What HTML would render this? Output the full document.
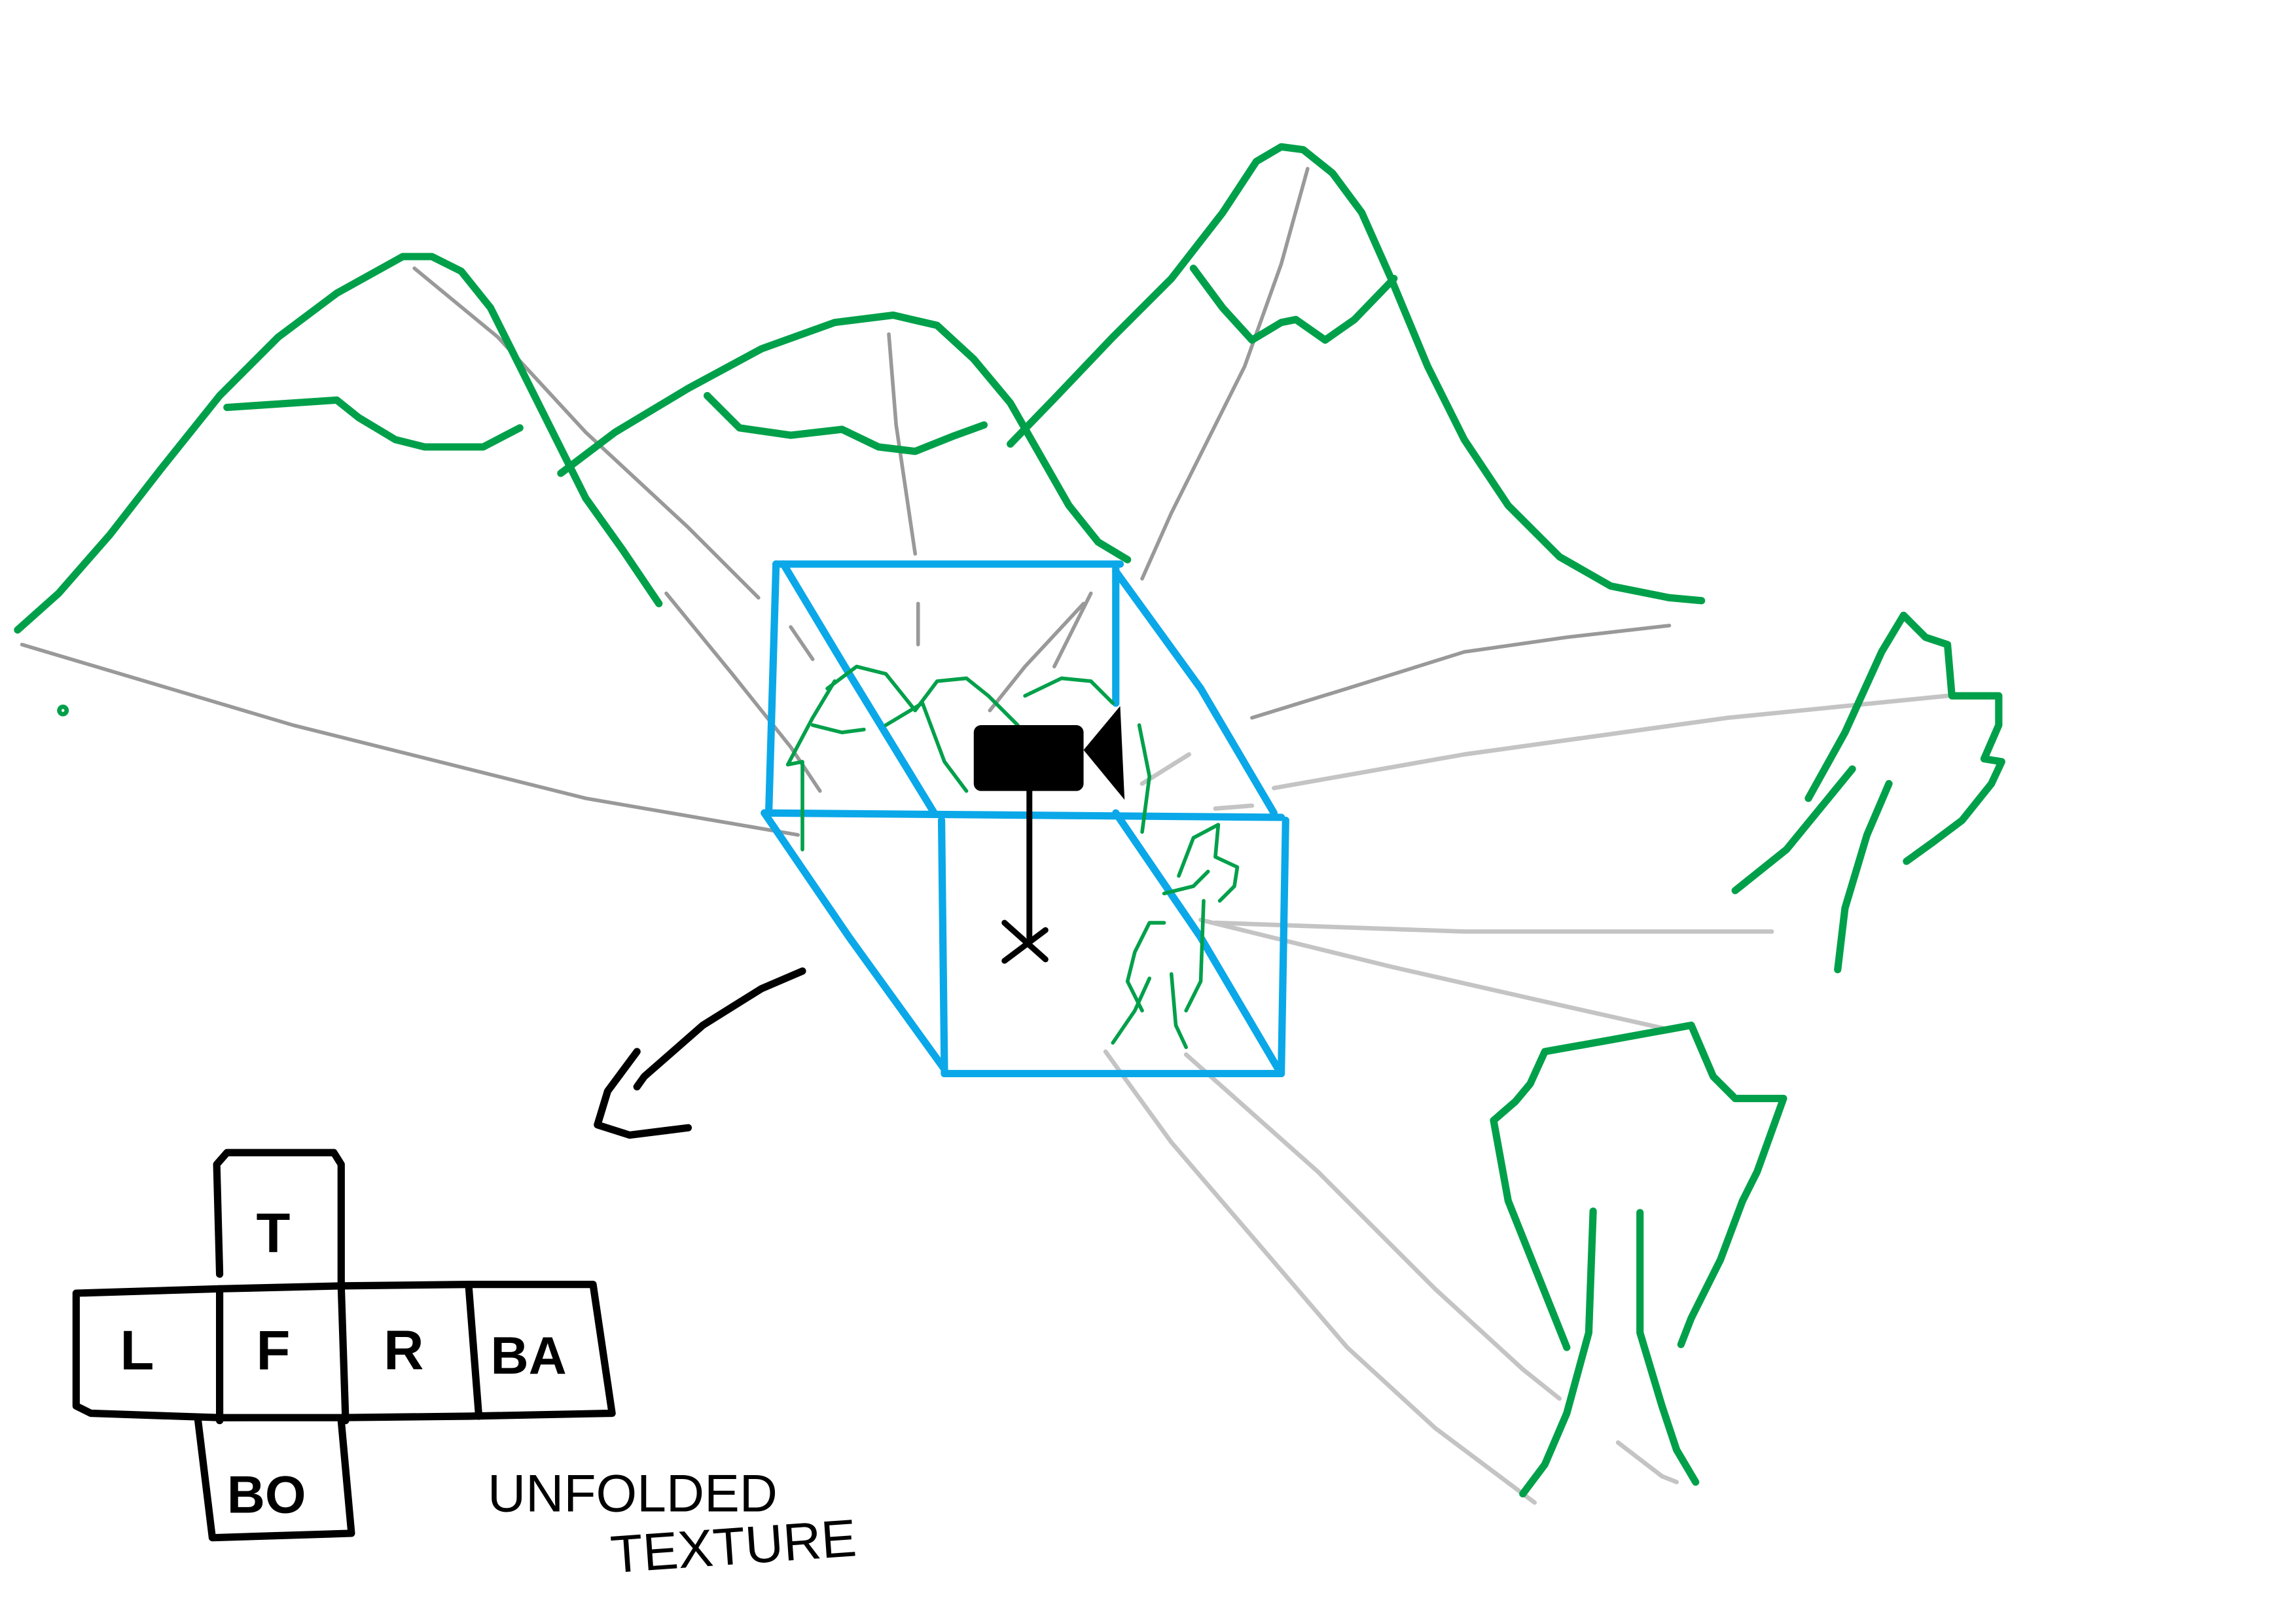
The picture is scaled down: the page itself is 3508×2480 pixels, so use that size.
<!DOCTYPE html>
<html><head><meta charset="utf-8"><style>
html,body{margin:0;padding:0;background:#fff;}
svg{display:block;}
text{font-family:"Liberation Sans",sans-serif;font-weight:bold;fill:#000;}
</style></head><body>
<svg width="3508" height="2480" viewBox="0 0 1568 1108" xmlns="http://www.w3.org/2000/svg" fill="none" stroke-linecap="round" stroke-linejoin="round">
<rect width="1568" height="1108" fill="#fff"/>
<g stroke="#999" stroke-width="2.5">
<polyline points="15,440 200,495 400,545 545,570"/>
<polyline points="283,183 340,230 400,295 470,360 518,408"/>
<polyline points="455,405 500,460 540,510 560,540"/>
<polyline points="607,228 612,290 625,378"/>
<polyline points="627,412 627,440"/>
<polyline points="540,428 555,450"/>
<polyline points="893,115 875,180 850,250 825,300 800,350 780,395"/>
<polyline points="855,490 920,470 1000,445 1070,435 1140,427"/>
<polyline points="745,405 720,455"/>
<polyline points="740,412 700,455 676,485"/>
</g>
<g stroke="#c4c4c4" stroke-width="3">
<polyline points="870,538 1000,515 1180,490 1330,475"/>
<polyline points="830,552 855,550"/>
<polyline points="780,535 812,515"/>
<polyline points="830,630 1000,636 1210,636"/>
<polyline points="820,628 950,660 1060,685 1140,703"/>
<polyline points="755,718 800,780 860,850 920,920 980,975 1048,1026"/>
<polyline points="810,720 900,800 980,880 1040,935 1065,955"/>
<polyline points="1105,985 1135,1008 1145,1012"/>
</g>
<g stroke="#00a04a" stroke-width="5">
<polyline points="12,430 40,405 75,365 110,320 150,270 190,230 230,200 275,175 295,175 315,185 335,210 355,250 375,290 400,340 425,375 450,412"/>
<polyline points="155,278 230,273 245,285 270,300 290,305 330,305 355,292"/>
<polyline points="383,323 420,295 470,265 520,238 570,220 610,215 640,222 665,245 690,275 710,310 730,345 750,370 770,382"/>
<polyline points="483,270 505,292 540,297 575,293 600,305 625,308 650,298 672,290"/>
<polyline points="690,303 720,272 760,230 800,190 835,145 858,110 875,100 890,102 910,118 930,145 950,190 975,250 1000,300 1030,345 1065,380 1100,400 1140,408 1162,410"/>
<polyline points="815,183 835,210 855,232 875,220 885,218 905,232 925,218 952,190"/>
<circle cx="43" cy="485" r="1.5"/>
</g>
<g stroke="#00a04a" stroke-width="5">
<polyline points="1185,608 1220,580 1265,525"/>
<polyline points="1235,545 1260,500 1285,445 1300,420 1305,425 1315,435 1330,440 1333,475 1365,475 1365,495 1355,518 1367,520 1360,535 1340,560 1320,575 1302,588"/>
<polyline points="1290,535 1275,570 1260,620 1255,662"/>
</g>
<g stroke="#00a04a" stroke-width="5">
<polyline points="1040,1020 1055,1000 1070,965 1085,910 1088,827"/>
<polyline points="1120,828 1120,910 1135,960 1145,990 1158,1012"/>
<polyline points="1070,920 1050,870 1030,820 1020,765 1035,752 1045,740 1055,718 1100,710 1155,700 1170,735 1185,750 1218,750 1200,800 1190,820 1175,860 1155,900 1148,918"/>
</g>
<g stroke="#0aa8e8" stroke-width="5">
<polyline points="530,385 765,385"/>
<polyline points="530,385 525,555"/>
<polyline points="762,385 762,480"/>
<polyline points="522,555 875,558"/>
<polyline points="645,733 875,733"/>
<polyline points="878,560 875,733"/>
<polyline points="643,560 645,733"/>
<polyline points="535,385 580,460 638,555"/>
<polyline points="762,390 820,470 870,555"/>
<polyline points="522,555 580,640 645,730"/>
<polyline points="762,555 820,640 873,730"/>
</g>
<g stroke="#00a04a" stroke-width="2.5">
<polyline points="548,580 548,520 538,522 555,490 570,465"/>
<polyline points="555,495 575,500 590,498"/>
<polyline points="565,470 585,455 605,460 625,485 640,465 660,463 675,475 695,495"/>
<polyline points="605,495 630,480 645,520 660,540"/>
<polyline points="700,475 725,463 745,465 760,480"/>
<polyline points="778,495 785,530 780,568"/>
<polyline points="805,598 815,572 832,563 830,585 845,592 843,605 833,615"/>
<polyline points="795,610 815,605 825,595"/>
<polyline points="822,615 820,670 810,690"/>
<polyline points="785,668 775,690 760,712"/>
<polyline points="800,665 803,700 810,715"/>
<polyline points="795,630 785,630 775,650 770,670 780,690"/>
</g>
<g>
<rect x="665" y="495" width="75" height="45" rx="5" fill="#000"/>
<polygon points="740,512 765,482 768,546" fill="#000"/>
<g stroke="#000" stroke-width="4">
<polyline points="703,540 703,640"/>
<polyline points="686,630 714,655"/>
<polyline points="714,635 686,656"/>
</g>
</g>
<g stroke="#000" stroke-width="5">
<polyline points="548,663 520,675 480,700 440,735 435,742"/>
<polyline points="435,718 415,745 408,768 430,775 470,770"/>
</g>
<g stroke="#000" stroke-width="5">
<polyline points="150,870 148,795 155,787 228,787 233,795 233,877"/>
<polyline points="52,883 150,880 233,878 320,877 405,877 418,965 320,967 233,968 150,968 62,965 52,960 52,883"/>
<polyline points="150,880 150,970"/>
<polyline points="233,878 236,970"/>
<polyline points="320,877 327,967"/>
<polyline points="135,968 145,1050 240,1047 233,970"/>
</g>
<g>
<text x="175" y="855" font-size="38">T</text>
<text x="82" y="935" font-size="38">L</text>
<text x="175" y="935" font-size="38">F</text>
<text x="262" y="935" font-size="38">R</text>
<text x="335" y="938" font-size="36">BA</text>
<text x="155" y="1033" font-size="36">BO</text>
</g>
<text x="333" y="1032" font-size="36" font-weight="normal" style="font-weight:normal">UNFOLDED</text>
<text x="418" y="1074" font-size="36" style="font-weight:normal" transform="rotate(-4 418 1074)">TEXTURE</text>
</svg>
</body></html>
